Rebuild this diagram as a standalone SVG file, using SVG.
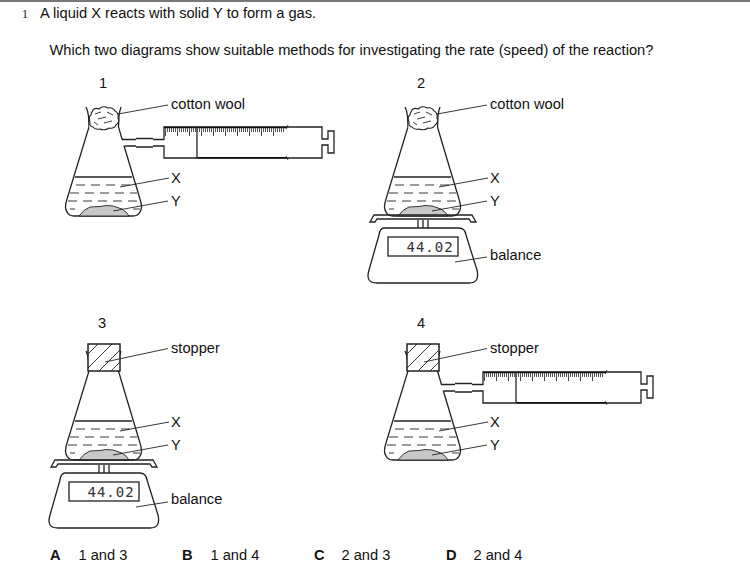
<svg xmlns="http://www.w3.org/2000/svg" width="750" height="578" viewBox="0 0 750 578">
<style>
text{font-family:"Liberation Sans",Arial,sans-serif;font-size:14.65px;fill:#111}
.b{font-weight:bold}
.s{fill:none;stroke:#222;stroke-width:1.3}
.t{fill:none;stroke:#222;stroke-width:.9}
.w{fill:#fff;stroke:#222;stroke-width:1.3}
text.d{font-family:"DejaVu Sans Mono","Liberation Mono",monospace;font-size:14px;letter-spacing:1px;fill:#333}
</style>
<defs>
<clipPath id="hc"><rect x="88" y="100" width="32" height="27"/></clipPath>
<g id="flask">
<path class="s" d="M86 107Q88 111 88.500 116L89 127L67 199Q64 208 67 212Q69 216 74 216H133Q138 216 140 212Q143 208 140 199L122 139L118.500 127L119 116Q119.500 111 121 107"/>
<path class="s" d="M75 177H132"/>
<path class="t" stroke-dasharray="9 6" d="M76 185H134M70 193H137M68 201H140M70 209H75M133 209H140"/>
<path d="M79 216Q84 209 90 207L100 206.500L106 205.500L113 206L122 209Q127 212 129 216Z" fill="#c8c8c8" stroke="#222" stroke-width=".9"/>
<path class="t" d="M120 187L169 178M113 211L168 201"/>
</g>
<g id="wool">
<rect x="89.500" y="108" width="28" height="20" fill="#fff"/>
<path fill="none" stroke="#222" stroke-width="1.100" d="M92 112Q94 107 99 109Q103 105 108 108Q113 107 115 111Q119 113 118 118Q120 122 116 125Q114 129 109 128Q105 131 100 129Q95 130 93 127Q89 126 90 122Q88 117 91 115Q91 113 92 112Z"/>
<path class="t" d="M95 114L101 112M98 119L106 117M104 123L112 121M107 112L113 115M94 122L98 125"/>
<path class="t" d="M118 114L168 105"/>
</g>
<g id="stopper">
<rect x="88" y="100" width="32" height="27" fill="#fff" stroke="#222" stroke-width="1.500"/>
<path class="t" clip-path="url(#hc)" d="M80 118L102 96M84 128L114 98M96 130L124 102M108 130L124 114"/>
<path class="t" d="M105 118L168 104.500"/>
</g>
<g id="syringe">
<rect x="117" y="140" width="9" height="5.500" fill="#fff"/>
<path class="s" d="M122 139.500H136M125 146H136M153 139.500H164V127H322V139H328V131H334V153H328V145H322V158H164V146H153"/>
<path class="s" stroke-width="2" d="M136 138.500H153M136 147H153"/>
<path d="M164 127.500H287M197 157.800H287" fill="none" stroke="#111" stroke-width="1.500"/>
<path d="M197 127V158" class="s"/>
<path d="M165 130H284" fill="none" stroke="#555" stroke-width="4" stroke-dasharray="1 1"/>
<path d="M165 134H284" fill="none" stroke="#444" stroke-width="4" stroke-dasharray="1 11"/>
<path d="M286 129L288 125M286 156L288 160" class="t"/>
</g>
<g id="balance">
<path class="s" d="M51 222L55 215H153L157 222H152L150 219H58L56 222Z"/>
<path class="s" d="M99 220V229M104 220V229M109 220V229"/>
<path class="w" d="M65 228H140Q146 228 147 235L158 270Q161 283 150 283H58Q46 283 50 270L60 235Q61 228 65 228Z"/>
<rect x="69" y="237" width="70" height="19" class="w"/>
<text class="d" x="87.500" y="251.500">44.02</text>
<path class="t" d="M136 262L168 257"/>
</g>
</defs>
<rect width="750" height="578" fill="#fff"/>
<rect width="750" height="2" fill="#777"/>
<text x="22" y="18" style="font-family:'Liberation Serif',serif;font-size:12px">1</text>
<text x="40" y="18">A liquid X reacts with solid Y to form a gas.</text>
<text x="49.500" y="55">Which two diagrams show suitable methods for investigating the rate (speed) of the reaction?</text>

<g id="diagram-1">
<text x="99" y="88">1</text>
<use href="#flask"/><use href="#syringe"/><use href="#wool"/>
<text x="171" y="109">cotton wool</text><text x="171" y="183">X</text><text x="171" y="206">Y</text>
</g>
<g id="diagram-2" transform="translate(319 0)">
<text x="98" y="88">2</text>
<use href="#flask"/><use href="#wool"/><use href="#balance"/>
<text x="171" y="109">cotton wool</text><text x="171" y="183">X</text><text x="171" y="206">Y</text><text x="171" y="260">balance</text>
</g>
<g id="diagram-3" transform="translate(0 244)">
<text x="98" y="84">3</text>
<use href="#flask"/><use href="#stopper"/><use href="#balance" y="1"/>
<text x="171" y="109">stopper</text><text x="171" y="183">X</text><text x="171" y="206">Y</text><text x="171" y="260">balance</text>
</g>
<g id="diagram-4" transform="translate(319 244)">
<text x="98" y="84">4</text>
<use href="#flask"/><use href="#syringe" y="1"/><use href="#stopper"/>
<text x="171" y="109">stopper</text><text x="171" y="183">X</text><text x="171" y="206">Y</text>
</g>
<g id="answers">
<text class="b" x="50" y="560">A</text><text x="78.500" y="560">1 and 3</text>
<text class="b" x="182" y="560">B</text><text x="210.500" y="560">1 and 4</text>
<text class="b" x="314" y="560">C</text><text x="341.500" y="560">2 and 3</text>
<text class="b" x="446" y="560">D</text><text x="473.500" y="560">2 and 4</text>
</g>
</svg>
